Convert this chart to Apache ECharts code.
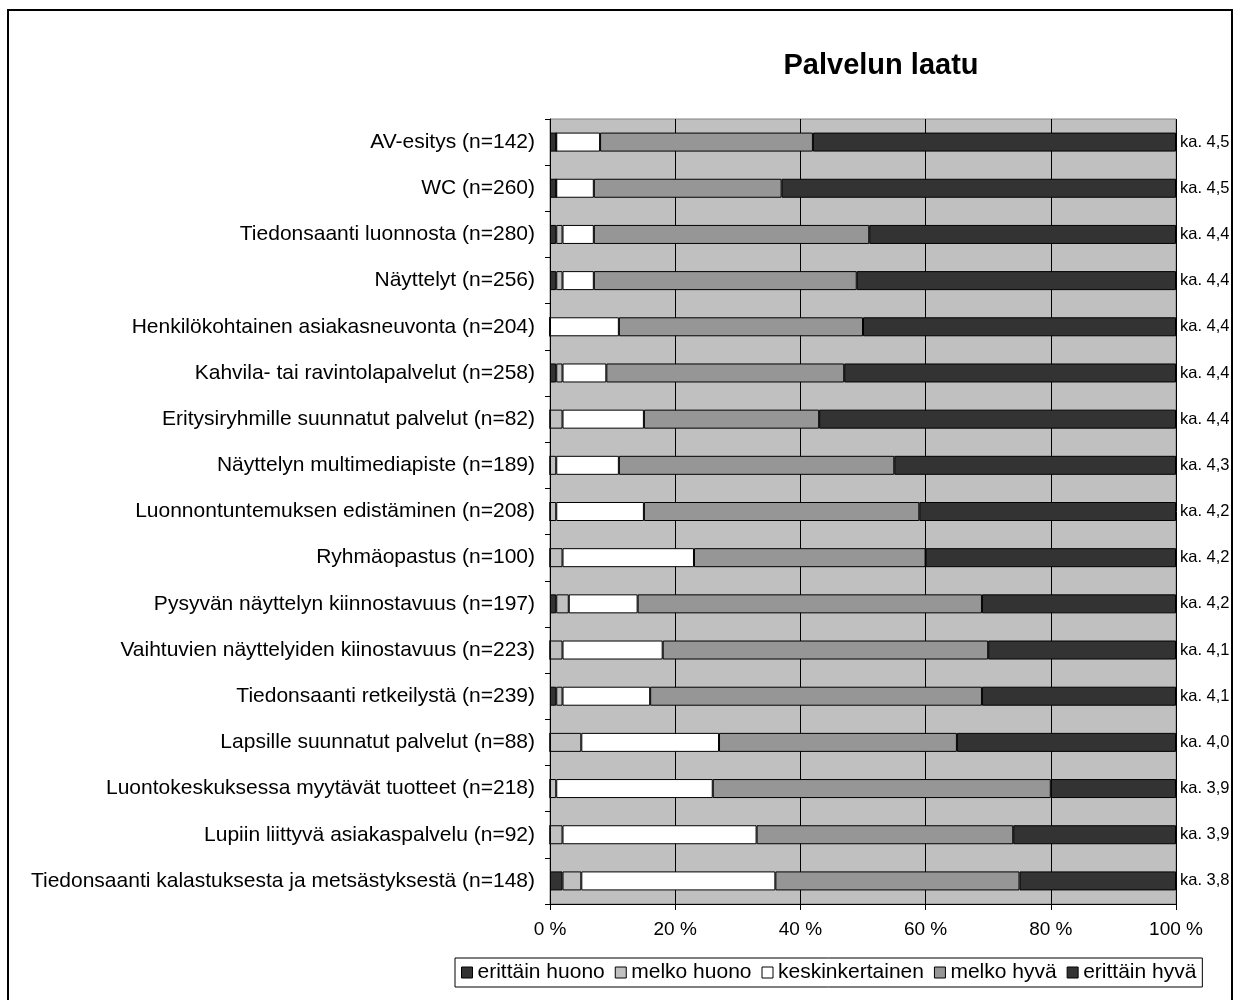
<!DOCTYPE html>
<html>
<head>
<meta charset="utf-8">
<script src="https://cdn.jsdelivr.net/npm/echarts@6/dist/echarts.min.js"></script>
<style>
  html, body { margin: 0; padding: 0; background: #fff; }
  #main { width: 1236px; height: 1000px; }
</style>
</head>
<body>
<div id="main"></div>
<script>
var categories = [
  'AV-esitys (n=142)',
  'WC (n=260)',
  'Tiedonsaanti luonnosta (n=280)',
  'Näyttelyt (n=256)',
  'Henkilökohtainen asiakasneuvonta (n=204)',
  'Kahvila- tai ravintolapalvelut (n=258)',
  'Eritysiryhmille suunnatut palvelut (n=82)',
  'Näyttelyn multimediapiste (n=189)',
  'Luonnontuntemuksen edistäminen (n=208)',
  'Ryhmäopastus (n=100)',
  'Pysyvän näyttelyn kiinnostavuus (n=197)',
  'Vaihtuvien näyttelyiden kiinostavuus (n=223)',
  'Tiedonsaanti retkeilystä (n=239)',
  'Lapsille suunnatut palvelut (n=88)',
  'Luontokeskuksessa myytävät tuotteet (n=218)',
  'Lupiin liittyvä asiakaspalvelu (n=92)',
  'Tiedonsaanti kalastuksesta ja metsästyksestä (n=148)'
];
var averages = ['ka. 4,5', 'ka. 4,5', 'ka. 4,4', 'ka. 4,4', 'ka. 4,4', 'ka. 4,4', 'ka. 4,4', 'ka. 4,3',
  'ka. 4,2', 'ka. 4,2', 'ka. 4,2', 'ka. 4,1', 'ka. 4,1', 'ka. 4,0', 'ka. 3,9', 'ka. 3,9', 'ka. 3,8'];

var erittainHuono = [1, 1, 1, 1, 0, 1, 0, 0, 0, 0, 1, 0, 1, 0, 0, 0, 2];
var melkoHuono = [0, 0, 1, 1, 0, 1, 2, 1, 1, 2, 2, 2, 1, 5, 1, 2, 3];
var keskinkertainen = [7, 6, 5, 5, 11, 7, 13, 10, 14, 21, 11, 16, 14, 22, 25, 31, 31];
var melkoHyva = [34, 30, 44, 42, 39, 38, 28, 44, 44, 37, 55, 52, 53, 38, 54, 41, 39];
var erittainHyva = [58, 63, 49, 51, 50, 53, 57, 45, 41, 40, 31, 30, 31, 35, 20, 26, 25];

var seriesNames = ['erittäin huono', 'melko huono', 'keskinkertainen', 'melko hyvä', 'erittäin hyvä'];
var seriesData = [erittainHuono, melkoHuono, keskinkertainen, melkoHyva, erittainHyva];
var seriesColors = ['#333333', '#c0c0c0', '#ffffff', '#969696', '#333333'];

var FONT = 'Liberation Sans, Arial, sans-serif';

var series = seriesNames.map(function (name, i) {
  return {
    name: name,
    type: 'bar',
    stack: 'total',
    barWidth: 19,
    data: seriesData[i],
    itemStyle: {
      color: seriesColors[i],
      borderColor: '#000',
      borderWidth: 1
    }
  };
});

var option = {
  backgroundColor: '#fff',
  animation: false,
  textStyle: { fontFamily: FONT },
  title: {
    text: 'Palvelun laatu',
    left: 876,
    top: 46,
    textAlign: 'center',
    textStyle: { fontFamily: FONT, fontSize: 29, fontWeight: 'bold', color: '#000' }
  },
  graphic: [{
    type: 'rect',
    shape: { x: 8, y: 10, width: 1224, height: 1000 },
    style: { fill: 'none', stroke: '#000', lineWidth: 2 },
    silent: true
  }],
  legend: {
    left: 455,
    top: 958,
    data: seriesNames,
    icon: 'rect',
    itemWidth: 11,
    itemHeight: 11,
    itemGap: 10,
    padding: [4, 6],
    borderColor: '#000',
    borderWidth: 1,
    itemStyle: { borderColor: '#000', borderWidth: 1 },
    textStyle: { fontFamily: FONT, fontSize: 21, color: '#000', padding: [0, 0, 0, 0] }
  },
  grid: {
    left: 550,
    right: 60,
    top: 119,
    bottom: 96,
    show: true,
    backgroundColor: '#c0c0c0',
    borderColor: '#808080',
    borderWidth: 1
  },
  xAxis: {
    type: 'value',
    min: 0,
    max: 100,
    interval: 20,
    axisLine: { show: true, lineStyle: { color: '#000' } },
    axisTick: { show: true, length: 6, lineStyle: { color: '#000' } },
    axisLabel: { formatter: '{value} %', fontFamily: FONT, fontSize: 19, color: '#000', margin: 16 },
    splitLine: { show: true, lineStyle: { color: '#000', width: 1 } }
  },
  yAxis: [{
    type: 'category',
    inverse: true,
    data: categories,
    axisLine: { show: true, lineStyle: { color: '#000' } },
    axisTick: { show: true, length: 5, lineStyle: { color: '#000' } },
    axisLabel: { fontFamily: FONT, fontSize: 21, color: '#000', margin: 15 }
  }, {
    type: 'category',
    inverse: true,
    position: 'right',
    data: averages,
    axisLine: { show: false },
    axisTick: { show: false },
    axisLabel: { fontFamily: FONT, fontSize: 16.5, color: '#000', margin: 4 }
  }],
  series: series
};

var chart = echarts.init(document.getElementById('main'));
chart.setOption(option);
</script>
</body>
</html>
